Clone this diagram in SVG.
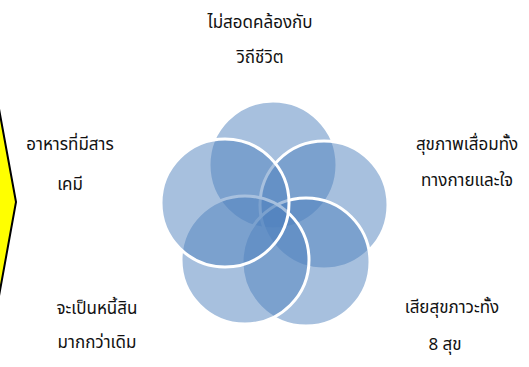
<svg xmlns="http://www.w3.org/2000/svg" width="529" height="367" viewBox="0 0 529 367">
<style>
.c{fill:#4f81bd;fill-opacity:0.5;stroke:#fff;stroke-width:3}
.t{font-family:"Noto Sans Thai","Noto Sans","Liberation Sans",sans-serif;font-size:17px;fill:#111;text-anchor:middle}
</style>
<rect width="529" height="367" fill="#fff"/>
<g id="arrow"><polygon points="-3,98 16,202 -3,307" fill="#ffff00" stroke="#000" stroke-width="2"/></g>
<g id="circles">
<circle id="c-top" class="c" cx="273" cy="165" r="64"/>
<circle id="c-right" class="c" cx="324" cy="205" r="64"/>
<circle id="c-bottom-right" class="c" cx="306" cy="262" r="64"/>
<circle id="c-bottom-left" class="c" cx="245" cy="260" r="64"/>
<circle id="c-left" class="c" cx="225" cy="203" r="64"/>
</g>
<g id="label-top"><text class="t" x="260" y="28">ไม่สอดคล้องกับ</text><text class="t" x="260" y="63">วิถีชีวิต</text></g>
<g id="label-left"><text class="t" x="70" y="150">อาหารที่มีสาร</text><text class="t" x="70" y="190">เคมี</text></g>
<g id="label-right"><text class="t" x="467" y="150">สุขภาพเสื่อมทั้ง</text><text class="t" x="467" y="186">ทางกายและใจ</text></g>
<g id="label-bottom-left"><text class="t" x="97" y="314">จะเป็นหนี้สิน</text><text class="t" x="97" y="348">มากกว่าเดิม</text></g>
<g id="label-bottom-right"><text class="t" x="452" y="313">เสียสุขภาวะทั้ง</text><text class="t" x="445" y="350">8 สุข</text></g>
</svg>
